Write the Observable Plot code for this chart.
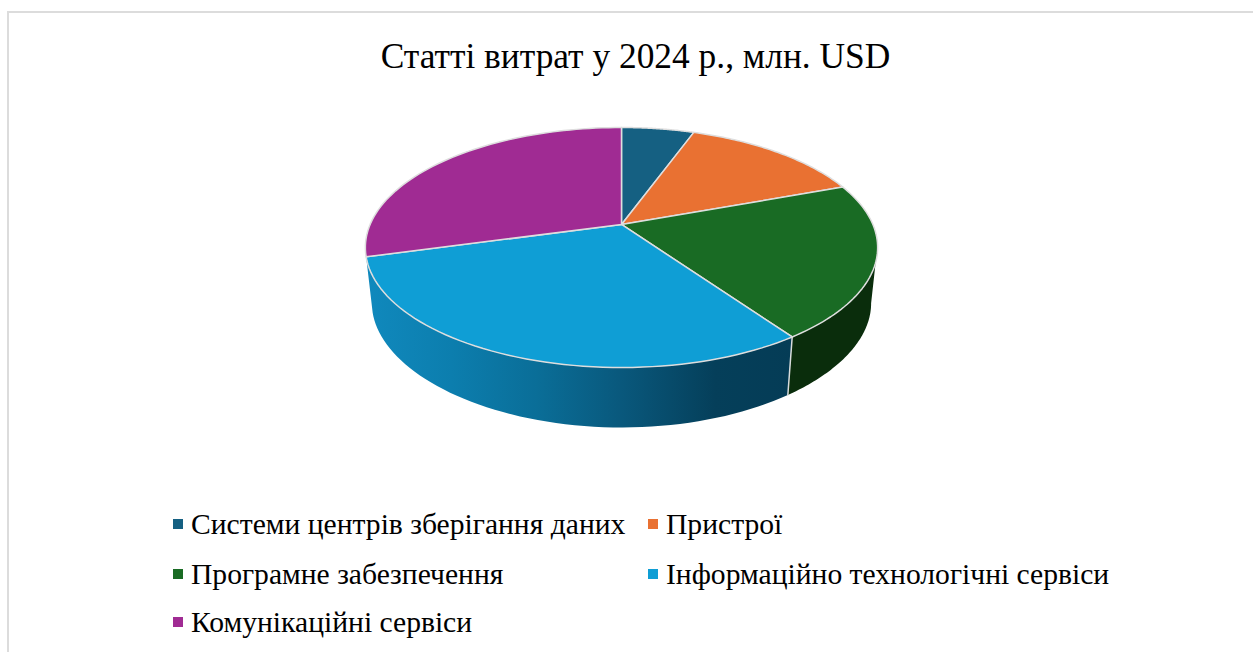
<!DOCTYPE html>
<html lang="uk">
<head>
<meta charset="utf-8">
<script src="https://cdn.jsdelivr.net/npm/d3@7"></script>
<script src="https://cdn.jsdelivr.net/npm/@observablehq/plot@0.6"></script>
<style>
html,body{margin:0;padding:0;background:#fff;width:1253px;height:652px;overflow:hidden;font-family:"Liberation Serif",serif;color:#000}
#frame{position:absolute;left:7px;top:11px;right:0;bottom:0;border-left:2px solid #dcdcdc;border-top:2px solid #dcdcdc}
#page{position:relative;width:1253px;height:652px}
#title{height:100px;margin:0;padding:0;text-align:center;font-weight:400;font-size:35.4px;line-height:112px;position:relative;left:9px}
#chart svg{display:block;background:transparent}
#legend{position:absolute;left:0;top:0;width:1253px;height:652px;pointer-events:none}
.item{position:absolute;font-size:29.6px;line-height:32px;white-space:nowrap}
.item i{position:absolute;left:-18px;top:11px;width:10px;height:10px;display:block}
</style>
</head>
<body>
<div id="frame"></div>
<div id="page">
  <h1 id="title"></h1>
  <div id="chart"></div>
  <div id="legend"></div>
</div>
<script>
const chartTitle = "Статті витрат у 2024 р., млн. USD";
const names = ["Системи центрів зберігання даних", "Пристрої", "Програмне забезпечення", "Інформаційно технологічні сервіси", "Комунікаційні сервіси"];
const values = [290, 730, 1100, 1600, 1540];
const colors = ["#156082", "#E97132", "#196B24", "#0F9ED5", "#A02B93"];
const legendColumn = [0, 1, 0, 1, 0];
const legendRow = [0, 0, 1, 1, 2];

// perspective view of the pie: top face and bottom rim of the disc
const tilt = 0.1917;
const topFace = {kx: 0.982, a: 1, b: 0.1917, c: 0.1917};
const lowFace = {kx: 0.957, a: 0.885, b: -0.275, c: 0.2266};
const project = (deg, f) => {
  const t = deg * Math.PI / 180, u = Math.sin(t), v = Math.cos(t);
  return {x: f.kx * u / (1 + tilt * v), y: (f.a * v + f.b) / (1 + f.c * v)};
};
const arc = (from, to, f) => d3.range(0, 61).map(i => project(from + (to - from) * i / 60, f));

const total = d3.sum(values);
const ends = d3.cumsum(values).map(c => c / total * 360);
const starts = ends.map((e, i) => i ? ends[i - 1] : 0);

const slices = names.flatMap((name, i) => [
  {x: 0, y: topFace.b, name},
  ...arc(starts[i], ends[i], topFace).map(p => ({...p, name}))
]);

const greenWall = [...arc(108, ends[2], topFace), ...arc(ends[2], 101, lowFace)];
const blueWall = [...arc(ends[2], ends[3], topFace), ...arc(ends[3], ends[2], lowFace)];
const wallEdge = [project(ends[2], topFace), project(ends[2], lowFace)];

const blueStops = [[0, "#1089bd"], [0.2, "#0c7eae"], [0.4, "#0a6e98"], [0.6, "#09587c"], [0.82, "#053f5a"], [1, "#053c56"]];

const defs = () => {
  const d = d3.create("svg:defs");
  const g = d.append("linearGradient").attr("id", "wallBlue").attr("x1", 0).attr("x2", 1).attr("y1", 0).attr("y2", 0);
  blueStops.forEach(([o, c]) => g.append("stop").attr("offset", o).attr("stop-color", c));
  return d.node();
};

const plot = Plot.plot({
  width: 1253, height: 370,
  margin: 0,
  x: {domain: [-1, 1], range: [365, 877], axis: null},
  y: {domain: [-1, 1], range: [267, 27], axis: null},
  color: {domain: names, range: colors},
  marks: [
    defs,
    Plot.line(greenWall, {x: "x", y: "y", fill: "#0a2d0c", stroke: "none", curve: "linear-closed"}),
    Plot.line(blueWall, {x: "x", y: "y", fill: "url(#wallBlue)", stroke: "none", curve: "linear-closed"}),
    Plot.line(wallEdge, {x: "x", y: "y", stroke: "#d8dcdc", strokeWidth: 1.5}),
    Plot.line(slices, {x: "x", y: "y", z: "name", fill: "name", stroke: "#dedede", strokeWidth: 1.5, curve: "linear-closed"})
  ]
});
document.getElementById("chart").appendChild(plot);
document.getElementById("title").textContent = chartTitle;

const legend = d3.select("#legend");
names.forEach((name, i) => {
  const item = legend.append("div").attr("class", "item")
    .style("left", (legendColumn[i] ? 666 : 191) + "px")
    .style("top", [508, 558, 606][legendRow[i]] + "px");
  item.append("i").style("background", colors[i]);
  item.append("span").text(name);
});
</script>
</body>
</html>
